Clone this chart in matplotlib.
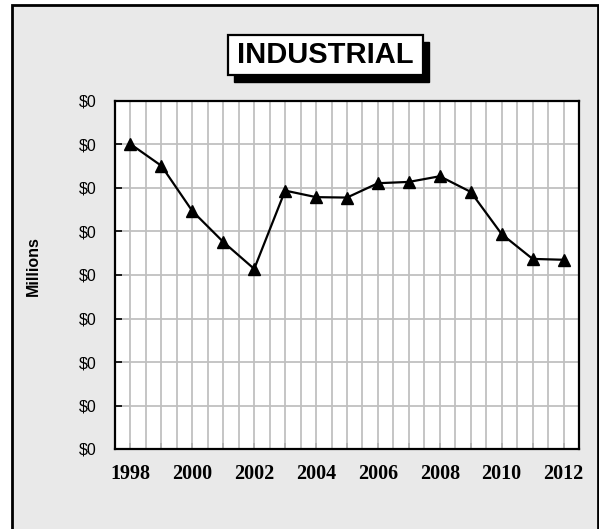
import matplotlib
matplotlib.use('Agg')
import matplotlib.pyplot as plt
from matplotlib.patches import Rectangle
from matplotlib.ticker import FuncFormatter, MultipleLocator

plt.rcParams['font.family'] = ['Liberation Sans', 'DejaVu Sans']

# Data (millions of dollars)
years = [1998, 1999, 2000, 2001, 2002, 2003, 2004, 2005, 2006, 2007, 2008, 2009, 2010, 2011, 2012]
values = [0.3505, 0.3255, 0.2735, 0.238, 0.207, 0.297, 0.2895, 0.289, 0.3055, 0.307, 0.3135, 0.2955, 0.247, 0.2185, 0.2175]
year_labels = ['1998', '2000', '2002', '2004', '2006', '2008', '2010', '2012']

W, H = 599, 529
fig = plt.figure(figsize=(W / 100, H / 100), dpi=100)
fig.patch.set_facecolor('white')

# Chart area background with border
bg = Rectangle((12 / W, -0.02), 586 / W, (524 / H) + 0.02, transform=fig.transFigure,
               facecolor='#e9e9e9', edgecolor='black', linewidth=2, zorder=-5)
fig.add_artist(bg)

# Plot area
ax = fig.add_axes([115 / W, (H - 449) / H, 464 / W, 348 / H])
ax.set_zorder(1)
ax.set_facecolor('white')
ax.plot(years, values, color='black', linewidth=1.6, marker='^', markersize=9,
        markerfacecolor='black', markeredgecolor='black', zorder=3)

ax.set_xlim(1997.5, 2012.5)
ax.set_ylim(0, 0.4)
ax.yaxis.set_major_locator(MultipleLocator(0.05))
ax.set_xticks([int(y) for y in year_labels])
ax.set_xticklabels(year_labels, fontfamily='Liberation Serif', fontweight='bold', fontsize=14.5)
ax.set_xticks(years, minor=True)
ax.yaxis.set_major_formatter(FuncFormatter(lambda v, p: '${:,.0f}'.format(v)))

# grid: vertical every half year, horizontal at each y tick
for x in [1997.5 + 0.5 * i for i in range(1, 30)]:
    ax.axvline(x, color='#c0c0c0', linewidth=1.3, zorder=1)
ax.grid(axis='y', color='#c0c0c0', linewidth=1.3, zorder=1)
ax.set_axisbelow(True)

for s in ax.spines.values():
    s.set_linewidth(1.6)
    s.set_color('black')

ax.tick_params(axis='x', which='both', direction='in', length=4, width=1.2, pad=11)
ax.tick_params(axis='y', direction='in', length=5, width=1.2, pad=13, labelsize=11.5)

fig.text(33 / W, (H - 266) / H, 'Millions', rotation=90, ha='center', va='center',
         fontweight='bold', fontsize=11.5)

# Title box with shadow
fig.add_artist(Rectangle((234 / W, (H - 82) / H), 195 / W, 40 / H, transform=fig.transFigure,
                         facecolor='black', edgecolor='black', zorder=2))
fig.add_artist(Rectangle((228 / W, (H - 75) / H), 195 / W, 40 / H, transform=fig.transFigure,
                         facecolor='white', edgecolor='black', linewidth=1.6, zorder=3))
fig.text(325.5 / W, (H - 55) / H, 'INDUSTRIAL', ha='center', va='center',
         fontweight='bold', fontsize=21, zorder=4)

fig.savefig('out.png', dpi=100, facecolor=fig.get_facecolor())
